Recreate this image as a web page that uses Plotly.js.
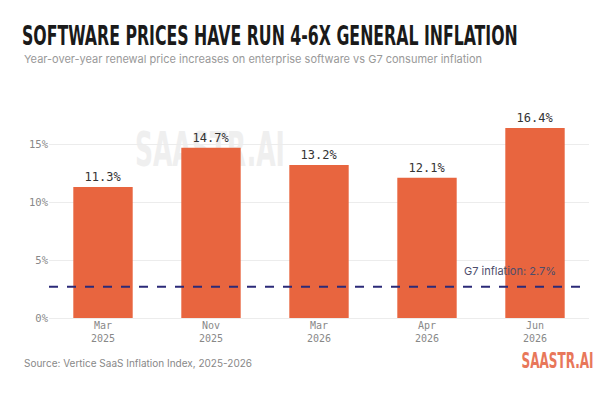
<!DOCTYPE html>
<html>
<head>
<meta charset="utf-8">
<script src="https://cdn.plot.ly/plotly-3.0.1.min.js"></script>
<style>html,body{margin:0;padding:0;background:#fff;}#chart{width:600px;height:400px;}</style>
</head>
<body>
<div id="chart"></div>
<script>
const categories = ["Mar<br>2025", "Nov<br>2025", "Mar<br>2026", "Apr<br>2026", "Jun<br>2026"];
const priceIncreases = [11.3, 14.7, 13.2, 12.1, 16.4];
const g7Inflation = 2.7;
const yTickValues = [0, 5, 10, 15];
const yTickLabels = ["0%", "5%", "10%", "15%"];

const mono = "DejaVu Sans Mono, Liberation Mono, monospace";
const narrow = "DejaVu Sans Condensed, DejaVu Sans, sans-serif";
const sans = "Inter, Roboto, sans-serif";

const trace = {
  type: "bar",
  x: categories,
  y: priceIncreases,
  marker: {color: "#E8653F"},
  text: priceIncreases.map(v => v.toFixed(1) + "%"),
  textposition: "outside",
  textfont: {family: mono, size: 12, color: "#333333"},
  cliponaxis: false,
  hoverinfo: "skip"
};

const layout = {
  width: 600, height: 400,
  paper_bgcolor: "#ffffff", plot_bgcolor: "#ffffff",
  margin: {l: 49, r: 11, t: 92, b: 82},
  showlegend: false,
  bargap: 0.45,
  title: {
    text: "SOFTWARE PRICES HAVE RUN 4-6X GENERAL INFLATION",
    font: {family: narrow, size: 27, color: "#1a1a1a", weight: 700},
    xref: "container", yref: "container",
    x: 22/600, xanchor: "left", y: 1 - 36/400, yanchor: "middle"
  },
  xaxis: {
    tickfont: {family: mono, size: 10, color: "#888888"},
    showgrid: false, showline: false, zeroline: false, ticks: "",
    fixedrange: true
  },
  yaxis: {
    range: [0, 19.5],
    tickvals: yTickValues, ticktext: yTickLabels,
    tickfont: {family: mono, size: 10.5, color: "#888888"},
    gridcolor: "#ececec", gridwidth: 1,
    zeroline: true, zerolinecolor: "#ececec", zerolinewidth: 1,
    showline: false, ticks: "", ticklen: 0,
    fixedrange: true
  },
  shapes: [
    {
      type: "rect", xref: "paper", yref: "paper", layer: "below",
      x0: 0.148, x1: 0.448, y0: 0.7, y1: 0.82,
      line: {width: 0}, fillcolor: "rgba(0,0,0,0)",
      label: {text: "SAASTR.AI", font: {family: narrow, size: 48, color: "#efefef", weight: 700}, textposition: "middle center"}
    },
    {
      type: "line", xref: "paper", yref: "y",
      x0: 0, x1: 1, y0: g7Inflation, y1: g7Inflation,
      line: {color: "#2b2a78", width: 2, dash: "dash"}
    }
  ],
  annotations: [
    {
      text: "Year-over-year renewal price increases on enterprise software vs G7 consumer inflation",
      xref: "paper", yref: "paper", x: -27/540, y: 1 + (92 - 59)/226,
      xanchor: "left", yanchor: "middle", showarrow: false,
      font: {family: sans, size: 11, color: "#999999"}
    },
    {
      text: "G7 inflation: " + g7Inflation + "%",
      xref: "paper", yref: "y", x: (558 - 49)/540, y: g7Inflation,
      xanchor: "right", yanchor: "bottom", yshift: 7, showarrow: false,
      font: {family: sans, size: 11, color: "#4d4d6b"}
    },
    {
      text: "Source: Vertice SaaS Inflation Index, 2025-2026",
      xref: "paper", yref: "paper", x: -27/540, y: -(363 - 318)/226,
      xanchor: "left", yanchor: "middle", showarrow: false,
      font: {family: sans, size: 10, color: "#888888"}
    },
    {
      text: "SAASTR.AI",
      xref: "paper", yref: "paper", x: (596 - 49)/540, y: -(360 - 318)/226,
      xanchor: "right", yanchor: "middle", showarrow: false,
      font: {family: narrow, size: 22, color: "#E8775A", weight: 700}
    }
  ]
};

function squeeze(el, targetWidth, anchor) {
  if (!el) return;
  const bb = el.getBBox();
  if (!bb.width) return;
  const sx = targetWidth / bb.width;
  const ox = anchor === "right" ? bb.x + bb.width : (anchor === "middle" ? bb.x + bb.width / 2 : bb.x);
  const prev = el.getAttribute("transform") || "";
  el.setAttribute("transform", prev + " translate(" + ox + ",0) scale(" + sx + ",1) translate(" + (-ox) + ",0)");
}

Plotly.newPlot("chart", [trace], layout, {displayModeBar: false, staticPlot: true}).then(function (gd) {
  squeeze(gd.querySelector(".gtitle"), 496, "left");
  const annTexts = gd.querySelectorAll(".annotation-text");
  annTexts.forEach(function (t) {
    if (t.textContent === "SAASTR.AI") squeeze(t, 72, "right");
  });
  gd.querySelectorAll(".layer-below text, .shapelayer text").forEach(function (t) {
    if (t.textContent === "SAASTR.AI") squeeze(t, 150, "middle");
  });
});
</script>
</body>
</html>
